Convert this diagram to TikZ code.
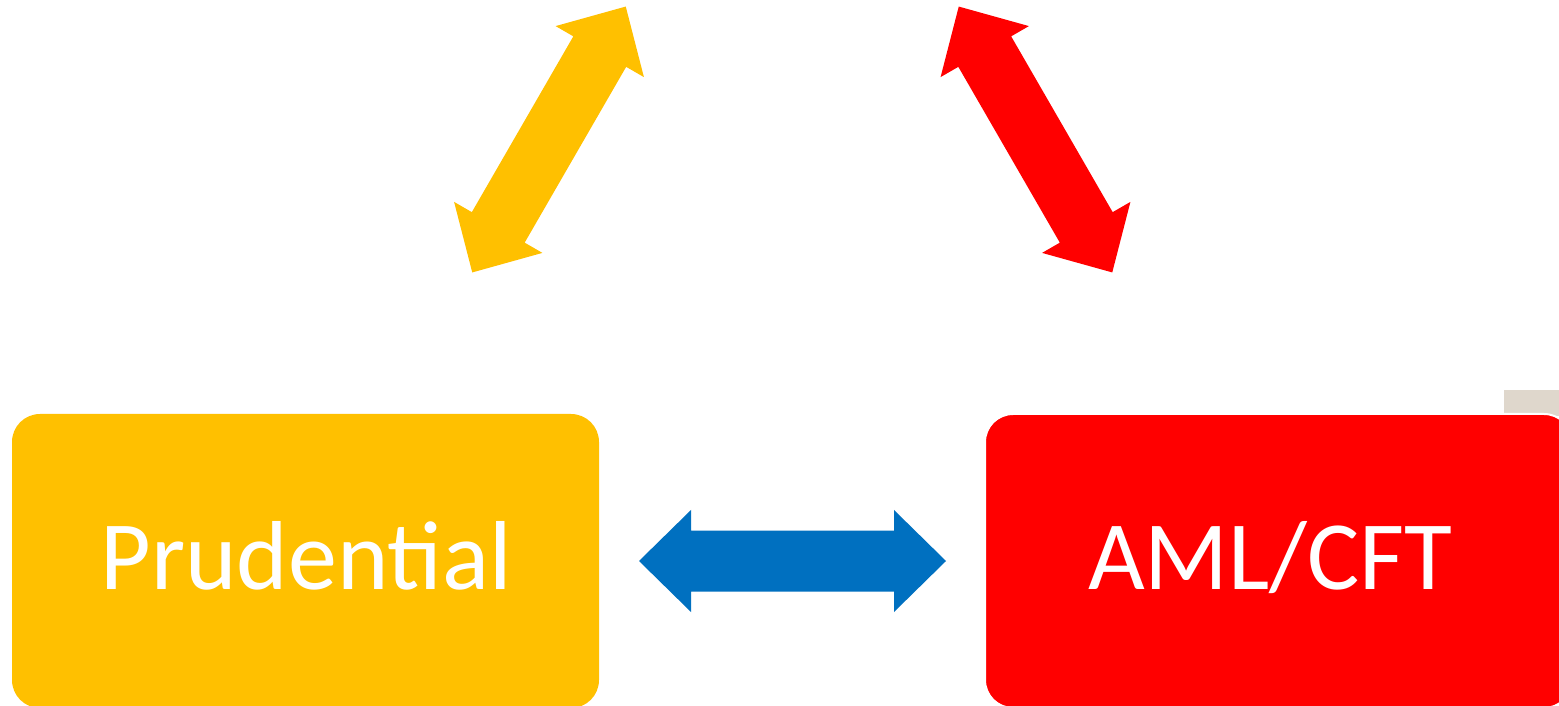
\documentclass[tikz,border=0pt]{standalone}
\usepackage{fontspec}
\setmainfont{Carlito}
\definecolor{gold}{RGB}{255,192,0}
\definecolor{pred}{RGB}{255,0,0}
\definecolor{pblue}{RGB}{0,112,192}
\definecolor{beige}{RGB}{223,215,204}
\tikzset{
  x=1pt,y=1pt,
  box/.style={rounded corners=28pt, minimum width=587pt, minimum height=294pt, inner sep=0pt, outer sep=0pt},
  lbl/.style={text=white, anchor=base, inner sep=0pt, font=\fontsize{98}{118}\selectfont},
  pics/blockarrow/.style={code={
    \fill[pic actions] (-153.5,0) -- (-101.5,51) -- (-101.5,30.5) -- (101.5,30.5) -- (101.5,51)
      -- (153.5,0) -- (101.5,-51) -- (101.5,-30.5) -- (-101.5,-30.5) -- (-101.5,-51) -- cycle;
  }}
}
\begin{document}
\begin{tikzpicture}
\clip (0,0) rectangle (1559,705);
\fill[white] (0,0) rectangle (1559,705);
% grey strip behind the right box
\fill[beige] (1504,289) rectangle (1580,315);
% boxes
\node[box, fill=gold] (prud) at (305.5,144) {};
\node[box, fill=pred, draw=white, line width=2pt] (aml) at (1278.5,144) {};
\node[lbl] (prudlabel) at (306,116) {Prudential};
\node[lbl] (amllabel) at (1270.5,116) {AML/CFT};
% block arrows
\coordinate (yc) at (549,565.5);
\coordinate (rc) at (1035.5,565.5);
\coordinate (bc) at (792.5,144);
\pic[fill=gold, rotate=60] at (yc) {blockarrow};
\pic[fill=pred, rotate=120] at (rc) {blockarrow};
\pic[fill=pblue] at (bc) {blockarrow};
\end{tikzpicture}
\end{document}
